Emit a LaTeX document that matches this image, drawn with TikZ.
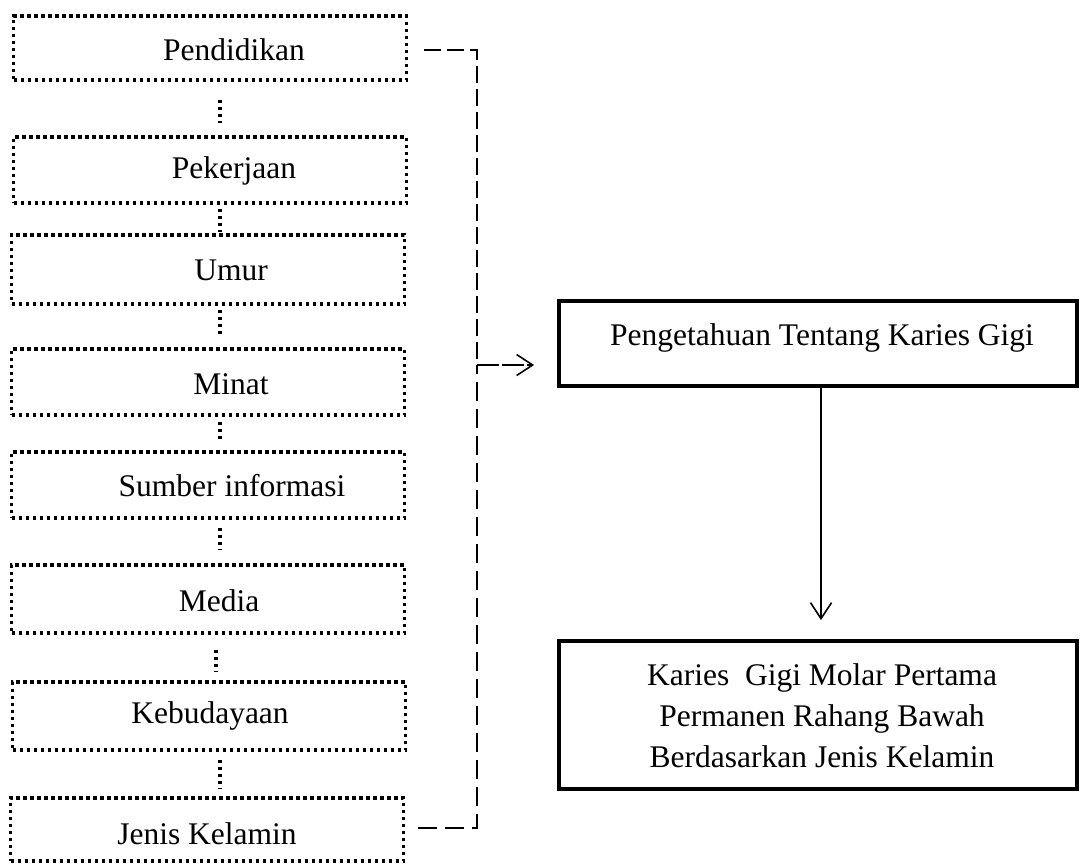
\documentclass[tikz,border=0pt]{standalone}
\usepackage{fontspec}
\setmainfont{Liberation Serif}
\usetikzlibrary{arrows.meta}
\begin{document}
\begin{tikzpicture}[x=1pt,y=-1pt,
  lbox/.style={draw, line width=3.2pt, dash pattern=on 3.2pt off 3.8pt, minimum width=393pt, inner sep=0pt},
  rbox/.style={draw, line width=3.8pt, minimum width=518pt, inner sep=0pt},
  ldot/.style={line width=3.2pt, dash pattern=on 3.2pt off 3.8pt},
  txt/.style={font=\fontsize{31.5}{41}\selectfont, inner sep=0pt, align=center},
  dthin/.style={line width=1.7pt, dash pattern=on 17pt off 6pt},
  dthick/.style={line width=2.7pt, dash pattern=on 19pt off 8pt},
  arr/.style={line width=1.6pt, -{Straight Barb[length=16pt,width=21pt,line width=1.6pt]}}]
\useasboundingbox (0,0) rectangle (1081,864);
% left boxes
\node[lbox, minimum height=64pt] (b1) at (210,48) {};
\node[lbox, minimum height=66pt] (b2) at (210,170) {};
\node[lbox, minimum height=69pt] (b3) at (208,269.5) {};
\node[lbox, minimum height=66pt] (b4) at (208,382) {};
\node[lbox, minimum height=66pt] (b5) at (208,485) {};
\node[lbox, minimum height=68pt] (b6) at (208,599) {};
\node[lbox, minimum height=68pt] (b7) at (209,716) {};
\node[lbox, minimum height=63pt] (b8) at (207,829.5) {};
% texts
\node[txt] (t1) at (234,50) {Pendidikan};
\node[txt] (t2) at (234,171) {Pekerjaan};
\node[txt] (t3) at (231,270) {Umur};
\node[txt] (t4) at (231,384) {Minat};
\node[txt] (t5) at (232,486) {Sumber informasi};
\node[txt] (t6) at (219,601) {Media};
\node[txt] (t7) at (210,716) {Kebudayaan};
\node[txt] (t8) at (207,834) {Jenis Kelamin};
% dotted connectors
\draw[ldot, shorten <=18pt, shorten >=12pt] ([xshift=10pt]b1.south) -- ([xshift=10pt]b2.north);
\draw[ldot, shorten <=4pt, shorten >=1pt] ([xshift=10pt]b2.south) -- ([xshift=12pt]b3.north);
\draw[ldot, shorten <=4pt, shorten >=13pt] ([xshift=12pt]b3.south) -- ([xshift=12pt]b4.north);
\draw[ldot, shorten <=5pt, shorten >=8pt] ([xshift=12pt]b4.south) -- ([xshift=12pt]b5.north);
\draw[ldot, shorten <=8pt, shorten >=13pt] ([xshift=12pt]b5.south) -- ([xshift=12pt]b6.north);
\draw[ldot, shorten <=15pt, shorten >=8pt] ([xshift=8pt]b6.south) -- ([xshift=7pt]b7.north);
\draw[ldot, shorten <=8pt, shorten >=7pt] ([xshift=11pt]b7.south) -- ([xshift=13pt]b8.north);
% right boxes
\node[rbox, minimum height=85pt] (r1) at (818,343.5) {};
\node[txt] (rt1) at (822,338) {Pengetahuan Tentang Karies Gigi};
\node[rbox, minimum height=148pt] (r2) at (818,715) {};
\node[txt] (rt2) at (822,716) {Karies\ \ Gigi Molar Pertama\\Permanen Rahang Bawah\\Berdasarkan Jenis Kelamin};
% dashed collector
\coordinate (jn) at (477,365);
\draw[dthin] ([xshift=16pt,yshift=-2pt]b1.east) -| (jn);
\draw[dthick] ([xshift=13pt,yshift=1.5pt]b8.east) -| (jn);
\draw[arr, dash pattern=on 22pt off 3pt, shorten >=23pt] (jn) -- (r1.west |- jn);
\draw[arr, shorten >=19pt] ([xshift=3pt]r1.south) -- ([xshift=3pt]r2.north);
\end{tikzpicture}
\end{document}
